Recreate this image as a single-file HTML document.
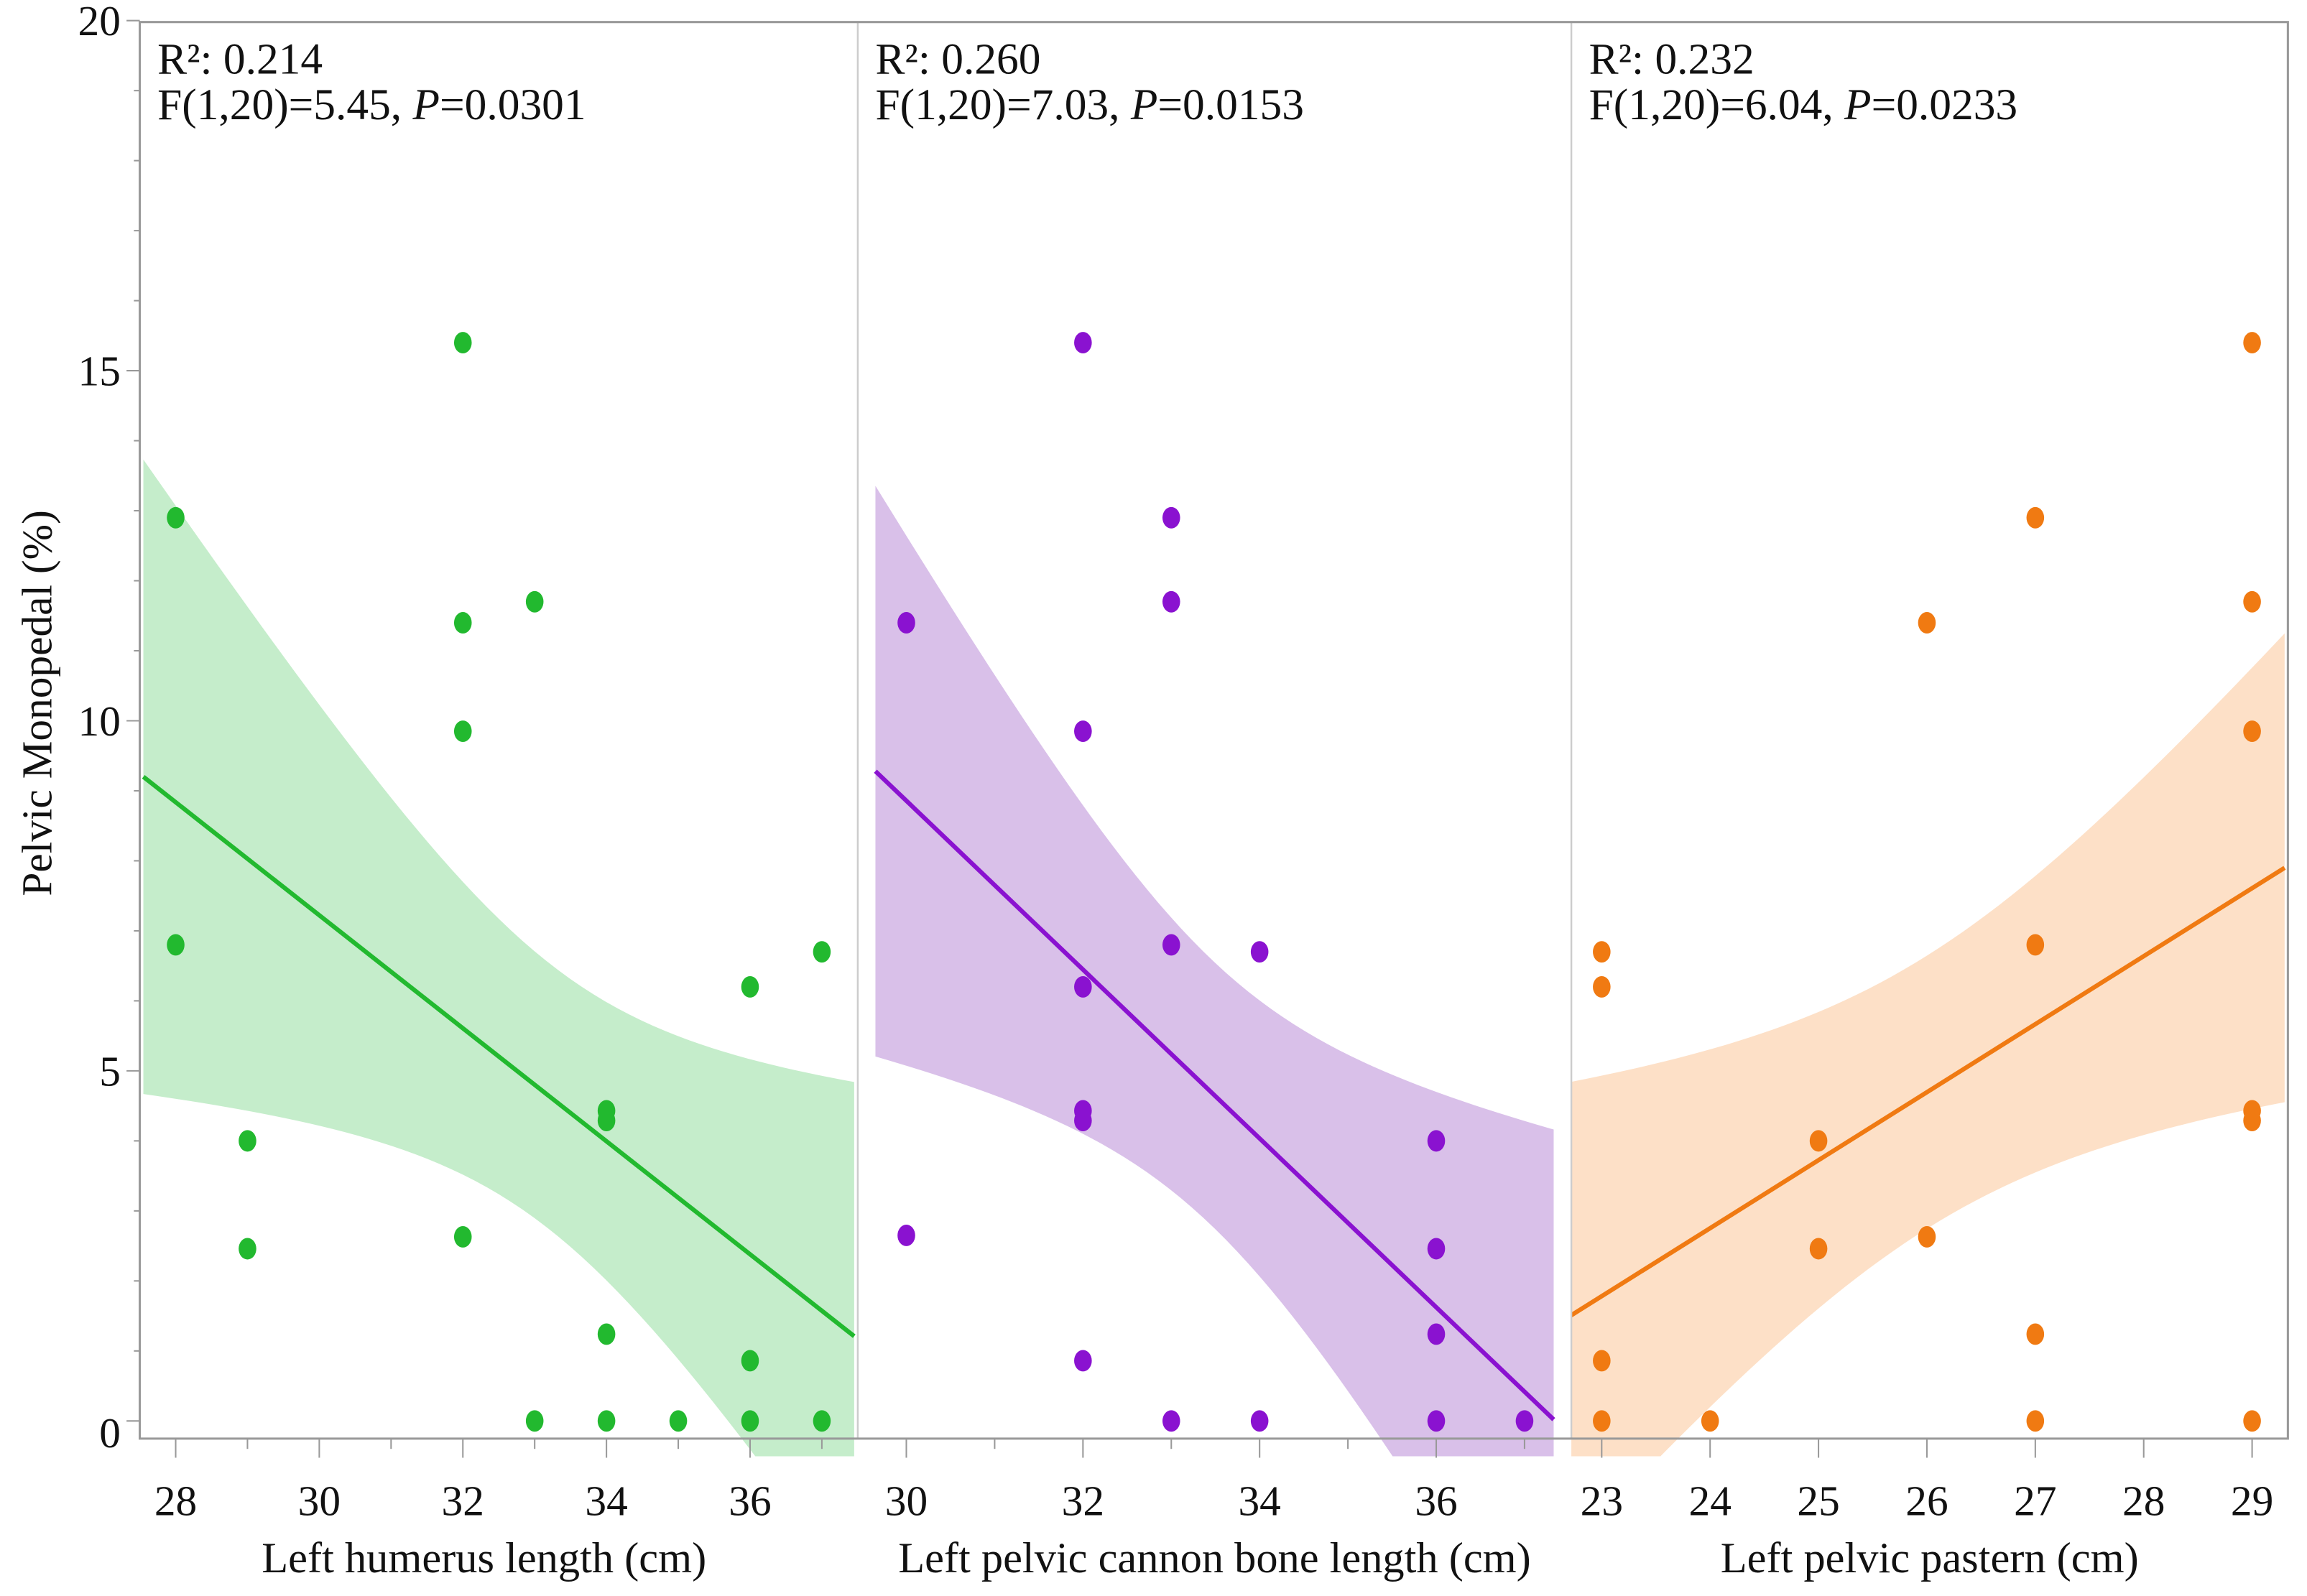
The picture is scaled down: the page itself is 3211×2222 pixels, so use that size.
<!DOCTYPE html>
<html><head><meta charset="utf-8"><style>
html,body{margin:0;padding:0;background:#fff;overflow:hidden;width:3211px;height:2222px;}
svg{display:block;font-family:"Liberation Serif",serif;}
</style></head><body>
<svg id="chart" width="3211" height="2222" viewBox="0 0 1568 1085" preserveAspectRatio="none" xmlns="http://www.w3.org/2000/svg">
<rect x="0" y="0" width="1568" height="1085" fill="#fff"/>
<g id="layer"></g>
</svg>
<script>
// ---- data ----
const yTicks = [0, 5, 10, 15, 20];
const p1X = [28,28,29,29,32,32,32,32,33,33,34,34,34,34,35,36,36,36,37,37];
const p1Y = [12.9,6.8,4.0,2.46,15.4,11.4,9.85,2.63,11.7,0,4.43,4.29,1.24,0,0,6.2,0.86,0,6.7,0];
const p2X = [30,30,32,32,32,32,32,32,33,33,33,33,34,34,36,36,36,36,37];
const p2Y = [11.4,2.65,15.4,9.85,6.2,4.43,4.29,0.86,12.9,11.7,6.8,0,6.7,0,4.0,2.46,1.24,0,0];
const p3X = [23,23,23,23,24,25,25,26,26,27,27,27,27,29,29,29,29,29,29];
const p3Y = [6.7,6.2,0.86,0,0,4.0,2.46,11.4,2.63,12.9,6.8,1.24,0,15.4,11.7,9.85,4.43,4.29,0];
const p1Ticks = [28,29,30,31,32,33,34,35,36,37];
const p1Labels = [28,30,32,34,36];
const p2Ticks = [30,31,32,33,34,35,36,37];
const p2Labels = [30,32,34,36];
const p3Ticks = [23,24,25,26,27,28,29];
const p3Labels = [23,24,25,26,27,28,29];
// fitted lines
const lineX0 = [27.55, 29.65, 22.71];
const lineY0 = [9.2, 9.28, 1.5];
const lineX1 = [37.45, 37.33, 29.3];
const lineY1 = [1.21, 0.02, 7.9];
// confidence band: half-width = sqrt(min^2 + spread*(x-center)^2)
const bandCenter = [33.2, 33.45, 26.0];
const bandMinHalf = [1.9, 1.9, 1.95];
const bandSpread = [0.53, 0.9, 0.68];
const statsR2 = ["0.214","0.260","0.232"];
const statsF = ["5.45","7.03","6.04"];
const statsP = ["0.0301","0.0153","0.0233"];
const xTitles = ["Left humerus length (cm)","Left pelvic cannon bone length (cm)","Left pelvic pastern (cm)"];

// ---- layout ----
const NS="http://www.w3.org/2000/svg";
const L=document.getElementById('layer');
function mk(tag,attrs,parent){const e=document.createElementNS(NS,tag);for(const k in attrs)e.setAttribute(k,attrs[k]);(parent||L).appendChild(e);return e;}
const frameL=95, frameR=1555, frameT=15, frameB=978, clipB=990;
const yScale=v=>966-v*47.6;
const panels=[
 {x0:95,x1:583,d0:27.5,d1:37.5,X:p1X,Y:p1Y,ticks:p1Ticks,labels:p1Labels,pt:"#22b92f",line:"#22b92f",band:"#c5edcb",name:"humerus"},
 {x0:583,x1:1068,d0:29.45,d1:37.53,X:p2X,Y:p2Y,ticks:p2Ticks,labels:p2Labels,pt:"#8a12d0",line:"#8a12d0",band:"#d9c0e9",name:"cannon"},
 {x0:1068,x1:1555,d0:22.72,d1:29.33,X:p3X,Y:p3Y,ticks:p3Ticks,labels:p3Labels,pt:"#f07a12",line:"#f07a12",band:"#fde0c7",name:"pastern"}
];
const defs=mk('defs',{});
panels.forEach((p,i)=>{
  const xs=v=>p.x0+(v-p.d0)/(p.d1-p.d0)*(p.x1-p.x0);
  const cp=mk('clipPath',{id:'clip'+i},defs);
  mk('rect',{x:p.x0,y:frameT,width:p.x1-p.x0,height:clipB-frameT},cp);
  const g=mk('g',{'clip-path':'url(#clip'+i+')'});
  
  
  const xa=lineX0[i], xb=lineX1[i];
  const slope=(lineY1[i]-lineY0[i])/(xb-xa);
  const fit=x=>lineY0[i]+slope*(x-xa);
  let up=[],lo=[];
  for(let k=0;k<=60;k++){const xv=xa+(xb-xa)*k/60;const f=fit(xv);
    const h=Math.sqrt(bandMinHalf[i]**2+bandSpread[i]*(xv-bandCenter[i])**2);
    up.push(xs(xv).toFixed(2)+','+yScale(f+h).toFixed(2));lo.unshift(xs(xv).toFixed(2)+','+yScale(f-h).toFixed(2));}
  const band=mk('polygon',{points:up.concat(lo).join(' '),fill:p.band},g);
  
  
  for(let k=0;k<p.X.length;k++){
    const c=mk('ellipse',{cx:xs(p.X[k]),cy:yScale(p.Y[k]),rx:6,ry:7.3,fill:p.pt},g);
    
    
  }
  const ln=mk('line',{x1:xs(xa),y1:yScale(fit(xa)),x2:xs(xb),y2:yScale(fit(xb)),stroke:p.line,'stroke-width':3},g);
  
  
  p.ticks.forEach(tv=>{
    const major=p.labels.indexOf(tv)>=0;
    const tk=mk('line',{x1:xs(tv),y1:frameB,x2:xs(tv),y2:frameB+(major?13:7),stroke:'#999','stroke-width':1});
    
    
  });
  p.labels.forEach(tv=>{
    const tx=mk('text',{x:xs(tv),y:1030,'font-size':29,'text-anchor':'middle',fill:'#111'});
    tx.textContent=tv;
    
    
  });
  const xt=mk('text',{x:(p.x0+p.x1)/2+(i===0?-10:0),y:1069,'font-size':29.5,'text-anchor':'middle',fill:'#111'});
  xt.textContent=xTitles[i];
  
  
  const t1=mk('text',{x:p.x0+12,y:50,'font-size':30,fill:'#111'});
  t1.textContent='R²: '+statsR2[i];
  
  
  const t2=mk('text',{x:p.x0+12,y:81,'font-size':30,fill:'#111'});
  t2.innerHTML='F(1,20)='+statsF[i]+', <tspan font-style="italic">P</tspan>='+statsP[i];
  
  
});
[583,1068].forEach(x=>{const d=mk('line',{x1:x,y1:frameT,x2:x,y2:frameB,stroke:'#ccc','stroke-width':1.2});
  
  });
const fr=mk('path',{d:`M${frameL},${frameT} H${frameR} V${frameB} H${frameL} Z`,fill:'none',stroke:'#999','stroke-width':1.5});


for(let v=0;v<=20;v++){const major=v%5===0;
  const tk=mk('line',{x1:frameL-(major?9:4),y1:yScale(v),x2:frameL,y2:yScale(v),stroke:'#999','stroke-width':1});
  
  }
yTicks.forEach(v=>{const tx=mk('text',{x:82,y:yScale(v)+(v===0?18:10),'font-size':29,'text-anchor':'end',fill:'#111'});
  tx.textContent=v;
  
  });
const yt=mk('text',{x:0,y:0,'font-size':29,'text-anchor':'middle',fill:'#111',transform:'translate(35,478) rotate(-90)'});
yt.textContent='Pelvic Monopedal (%)';


</script>
</body></html>
